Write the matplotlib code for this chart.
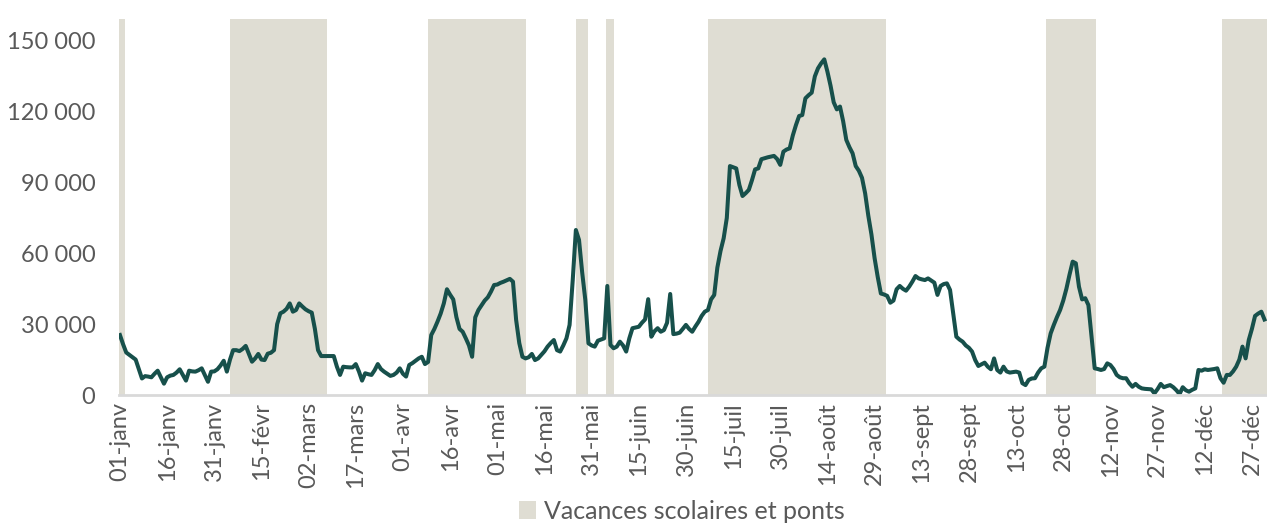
import matplotlib.pyplot as plt
from matplotlib.patches import Patch
from matplotlib.ticker import FuncFormatter

# daily values (thousands), one list per month, non-leap year
jan = [25.4, 21.5, 18, 17, 16, 15, 11, 7, 8, 7.8, 7.5, 9, 10.3, 7.5, 4.8, 7.5,
       8.2, 8.5, 9.5, 10.9, 8.5, 6.1, 10.3, 10, 9.9, 10.5, 11.3, 8.5, 5.6, 9.9, 10]
feb = [10.9, 12.5, 14.5, 9.9, 15, 19, 19, 18.6, 19.5, 20.8, 17.5, 14.1, 15.5, 17.4,
       15, 14.8, 17.5, 17.9, 19, 30, 34.6, 35.3, 36.5, 38.8, 35.3, 36, 38.8, 37.5]
mar = [36.3, 35.5, 34.9, 28, 19, 16.5, 16.5, 16.5, 16.5, 16.5, 12, 8.5, 12, 11.8,
       11.7, 11.7, 13.1, 10, 6.1, 9.2, 8.8, 8.5, 10.5, 13.1, 11, 9.9, 9, 8.1, 8.5, 9.5, 11.3]
apr = [9, 7.8, 12.7, 13.5, 14.5, 15.5, 16.2, 13.1, 14, 25.4, 28, 31.1, 34.5, 38.8,
       44.8, 42.5, 40.5, 33, 28, 26.8, 24, 21, 16.2, 32.9, 36, 38, 40, 41.4, 43.8, 46.6]
may = [46.8, 47.5, 48, 48.6, 49.2, 48, 31.8, 22, 16.2, 15.5, 16, 17.4, 14.8, 15.5,
       17, 18.5, 20.5, 22, 23.3, 19, 18.4, 21, 24, 29.7, 48.7, 69.9, 65.7, 52, 40.3, 21.9, 21]
jun = [20.5, 23, 23.5, 24, 46.2, 21.2, 19.8, 20.5, 22.6, 21, 18.4, 24, 28.3, 28.6,
       28.9, 30.6, 32, 40.6, 24.7, 27, 28.3, 26.8, 27.5, 30.6, 42.8, 25.8, 26, 26.4, 28, 29.7]
jul = [28, 26.8, 29, 31, 33.5, 35.3, 36, 40.5, 42.4, 54, 61, 66.4, 75, 97, 96.5, 96,
       89, 84.3, 85.5, 86.9, 91, 95.6, 96, 99.9, 100.3, 100.7, 101, 101.3, 100, 97.5, 103.1]
aug = [104, 104.5, 110, 114.4, 118.2, 118.6, 125.7, 127, 128.1, 135, 138.4, 140.5,
       142.2, 137, 131, 124, 121, 122.2, 116, 108.1, 105, 102.4, 97, 95, 92, 85.4,
       76, 68, 58, 50, 43]
sep = [42.6, 42, 39.1, 40, 44.8, 46.2, 45, 44.2, 45.9, 48, 50.4, 49.4, 49, 48.7, 49.4,
       48.5, 47.6, 42.4, 46.2, 47, 47.3, 44.5, 34.6, 24.7, 23.5, 22.6, 21, 20, 18.4, 14.8]
oct_ = [12.3, 13, 13.7, 12, 10.9, 15.5, 10.6, 9.5, 12, 10, 9.5, 9.7, 9.9, 9.5, 5, 4.2,
        6.4, 7, 7.1, 9.5, 11.3, 12, 20, 26.1, 29.7, 33, 36, 40, 45, 51, 56.5]
nov = [55.8, 45.9, 40.5, 41, 38.1, 24.7, 11.3, 11, 10.6, 11, 13.4, 12.7, 11, 8.5, 7.5,
       7.1, 7.1, 5, 3.5, 4.7, 3.5, 2.8, 2.6, 2.5, 2.4, 0.7, 2.5, 4.7, 3.3, 3.8]
dec = [4.2, 3.3, 2, 0.4, 3.3, 2, 1.4, 2.2, 2.8, 10.6, 10.3, 10.9, 10.6, 10.8, 11, 11.3,
       7.1, 5.2, 8.5, 8.5, 10, 12, 15, 20.5, 15.5, 23.3, 28, 33.5, 34.5, 35.3, 32]

values = [v * 1000 for v in jan + feb + mar + apr + may + jun + jul + aug + sep + oct_ + nov + dec]
days = list(range(len(values)))

# school holidays / bridges (day index start, end)
vac_start = [-0.5, 35, 98, 145, 154.5, 187, 294.5, 350.5]
vac_end = [1.5, 66, 129, 149, 157, 243.5, 310.5, 366]

tick_days = list(range(0, 361, 15))
tick_labels = ['01-janv', '16-janv', '31-janv', '15-févr', '02-mars', '17-mars', '01-avr',
               '16-avr', '01-mai', '16-mai', '31-mai', '15-juin', '30-juin', '15-juil',
               '30-juil', '14-août', '29-août', '13-sept', '28-sept', '13-oct', '28-oct',
               '12-nov', '27-nov', '12-déc', '27-déc']

plt.rcParams['font.family'] = ['Lato', 'DejaVu Sans']
grey = '#595959'
shade = '#dfddd3'

fig = plt.figure(figsize=(12.67, 5.25), dpi=100)
ax = fig.add_axes([119 / 1267, 130 / 525, 1148 / 1267, 376 / 525])

for s, e in zip(vac_start, vac_end):
    ax.axvspan(s, e, color=shade, lw=0, zorder=0)
ax.plot(days, values, color='#17504b', linewidth=2.9, zorder=3)

ax.set_xlim(-0.3, 364.8)
ax.set_ylim(0, 159300)
ax.set_yticks([0, 30000, 60000, 90000, 120000, 150000])
ax.yaxis.set_major_formatter(FuncFormatter(lambda v, p: f'{int(v):,}'.replace(',', ' ')))
ax.set_xticks(tick_days)
ax.set_xticklabels(tick_labels, rotation=90)
ax.tick_params(axis='both', length=0, labelsize=17, colors=grey)
ax.tick_params(axis='x', pad=5)
ax.tick_params(axis='y', pad=17)

for side in ['top', 'right', 'left']:
    ax.spines[side].set_visible(False)
ax.spines['bottom'].set_color('#d9d9d9')
ax.spines['bottom'].set_linewidth(2)
ax.spines['bottom'].set_zorder(4)

handle = Patch(facecolor=shade, edgecolor='none', label='Vacances scolaires et ponts')
fig.legend(handles=[handle], loc='center', bbox_to_anchor=(0.538, 0.026), frameon=False,
           fontsize=18, labelcolor=grey, handlelength=0.7, handleheight=0.7, handletextpad=0.3,
           borderpad=0.1)

fig.savefig('out.png', dpi=100)
